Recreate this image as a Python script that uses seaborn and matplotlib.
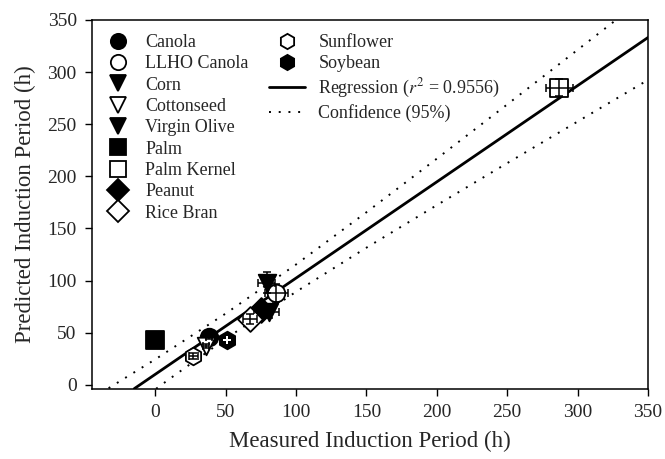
import matplotlib
matplotlib.use("Agg")
import matplotlib.pyplot as plt
from matplotlib.lines import Line2D
import seaborn as sns
import pandas as pd

# ---- data ----
categories = ['Canola', 'LLHO Canola', 'Corn', 'Cottonseed', 'Virgin Olive', 'Palm',
              'Palm Kernel', 'Peanut', 'Rice Bran', 'Sunflower', 'Soybean']
measured = [38, 86, 79, 36, 81, 0, 287, 75, 67, 27, 51]
predicted = [46, 88, 98, 37, 70, 43, 285, 72, 63, 28, 43]
x_err = [2, 8, 6, 2, 7, 1, 9.5, 5, 5, 3, 3]
y_err = [2, 9, 10, 2, 6, 1, 8, 4, 5, 3, 3]
markers = ['o', 'o', 'v', 'v', 'v', 's', 's', 'D', 'D', 'h', 'h']
filled = [True, False, True, False, True, True, False, True, False, False, True]

reg_x = [-15, 350]
reg_y = [-3.7, 333.2]
upper_x = [-45, -35, 0, 50, 100, 150, 200, 250, 300, 330]
upper_y = [-12.9, -4.7, 24.5, 68.4, 115.5, 165.6, 217, 269, 321.4, 352.9]
lower_x = [-5, 10, 50, 100, 150, 200, 250, 300, 350]
lower_y = [-9.3, 5.6, 44.2, 89.3, 131.6, 172.4, 212.7, 252.6, 292.5]
r2_label = "Regression ($r^2$ = 0.9556)"
conf_label = "Confidence (95%)"

x_ticks = [0, 50, 100, 150, 200, 250, 300, 350]
y_ticks = [0, 50, 100, 150, 200, 250, 300, 350]

# ---- style ----
sns.set_style("ticks")
plt.rcParams['font.family'] = ['Liberation Serif', 'DejaVu Serif']
plt.rcParams['mathtext.fontset'] = 'stix'
plt.rcParams['xtick.direction'] = 'out'
plt.rcParams['ytick.direction'] = 'out'

fig = plt.figure(figsize=(6.65, 4.59), dpi=100)
ax = fig.add_axes([92 / 665, 1 - 389 / 459, 556 / 665, 369 / 459])

df = pd.DataFrame({'cat': categories, 'x': measured, 'y': predicted,
                   'xe': x_err, 'ye': y_err, 'm': markers, 'f': filled})

# regression and confidence lines
sns.lineplot(x=reg_x, y=reg_y, ax=ax, color='black', linewidth=2.0, zorder=2)
dot_style = (0, (1, 4))
sns.lineplot(x=upper_x, y=upper_y, ax=ax, color='black', linewidth=1.4,
             linestyle=dot_style, zorder=2)
sns.lineplot(x=lower_x, y=lower_y, ax=ax, color='black', linewidth=1.4,
             linestyle=dot_style, zorder=2)

# points
for _, r in df.iterrows():
    fc = 'black' if r['f'] else 'white'
    sns.scatterplot(x=[r['x']], y=[r['y']], ax=ax, marker=r['m'], s=160,
                    color=fc, edgecolor='black', linewidth=1.3, zorder=3)
    ax.errorbar(r['x'], r['y'], xerr=r['xe'], yerr=r['ye'], fmt='none',
                ecolor='black', elinewidth=1.1, capsize=3, capthick=1.1, zorder=4)
    if r['cat'] == 'Soybean':
        sns.scatterplot(x=[r['x']], y=[r['y']], ax=ax, marker='P', s=35,
                        color='white', edgecolor='white', linewidth=0, zorder=5)

ax.set_xlim(-45, 350)
ax.set_ylim(-4, 350)
ax.set_xticks(x_ticks)
ax.set_yticks(y_ticks)
ax.tick_params(labelsize=14, length=5, width=1, color='black', pad=6)
for s in ax.spines.values():
    s.set_visible(True)
    s.set_linewidth(1.1)
    s.set_color('black')
ax.set_xlabel("Measured Induction Period (h)", fontsize=16.5, labelpad=7)
ax.set_ylabel("Predicted Induction Period (h)", fontsize=16.5, labelpad=8)

# legends
def mk(m, f):
    return Line2D([], [], linestyle='none', marker=m, markersize=11,
                  markerfacecolor='black' if f else 'white',
                  markeredgecolor='black', markeredgewidth=1.3)

h1 = [mk(m, f) for m, f in zip(markers[:9], filled[:9])]
leg1 = ax.legend(h1, categories[:9], loc='upper left', bbox_to_anchor=(0.031, 0.962),
                 frameon=False, fontsize=13, handlelength=1.0, handletextpad=1.0,
                 labelspacing=0.24, borderpad=0, borderaxespad=0)
ax.add_artist(leg1)

h2 = [mk(markers[9], filled[9]), mk(markers[10], filled[10]),
      Line2D([], [], color='black', linewidth=2.0),
      Line2D([], [], color='black', linewidth=1.4, linestyle=dot_style)]
leg2 = ax.legend(h2, categories[9:] + [r2_label, conf_label], loc='upper left',
                 bbox_to_anchor=(0.318, 0.962), frameon=False, fontsize=13,
                 handlelength=2.0, handletextpad=0.75, labelspacing=0.24,
                 borderpad=0, borderaxespad=0)

fig.savefig("out.png", dpi=100)
